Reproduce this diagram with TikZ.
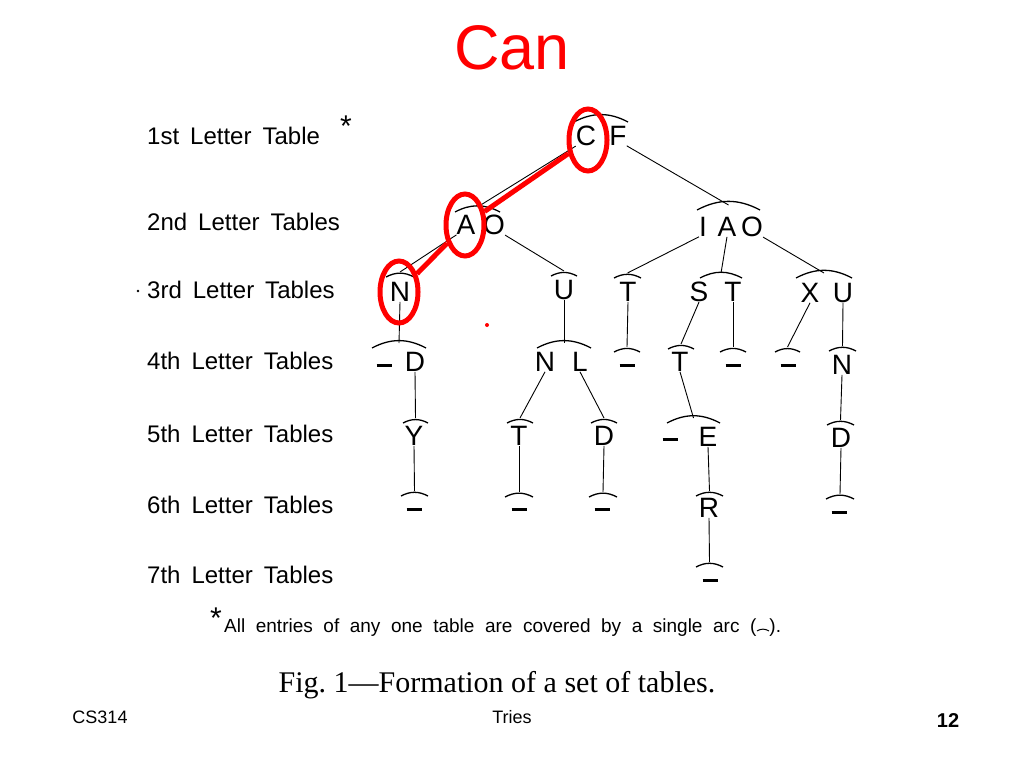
\documentclass[tikz,border=0pt]{standalone}
\usepackage{fontspec}
\usetikzlibrary{shapes.geometric}
\setmainfont{Liberation Serif}
\newfontfamily\lsans{Liberation Sans}
\begin{document}
\begin{tikzpicture}[x=1pt,y=-1pt,
  lt/.style={font=\lsans\fontsize{28}{28}\selectfont,inner sep=0pt},
  lab/.style={font=\lsans\fontsize{24}{24}\selectfont,anchor=west,inner sep=0pt},
  tbl/.style={line width=1.3pt},
  edge/.style={line width=0.9pt},
  hl/.style={red,line width=5pt},
  hlc/.style={draw=red,line width=5pt,ellipse,minimum width=38pt,minimum height=62pt,inner sep=0pt}]
\useasboundingbox (0,0) rectangle (1024,768);
\node[red,font=\lsans\fontsize{63}{63}\selectfont] (title) at (512,48) {Can};
% row labels
\newcommand\ws{\hspace{11pt}}
\node[lab] (l1) at (147,136) {1st\ws Letter\ws Table};
\node[font=\lsans\fontsize{30}{30}\selectfont,inner sep=0pt] (ast) at (346,126) {*};
\node[lab] (l2) at (147,222) {2nd\ws Letter\ws Tables};
\node[lab] (l3) at (147,290) {3rd\ws Letter\ws Tables};
\fill (138,291) circle (1.3);
\node[lab] (l4) at (147,361) {4th\ws Letter\ws Tables};
\node[lab] (l5) at (147,434) {5th\ws Letter\ws Tables};
\node[lab] (l6) at (147,505) {6th\ws Letter\ws Tables};
\node[lab] (l7) at (147,575) {7th\ws Letter\ws Tables};
% letters
\def\U{\rule[-9pt]{15pt}{2.4pt}}
\node[lt] (C) at (586,136) {C}; \node[lt] (F) at (618,136) {F};
\node[lt] (A) at (466,225) {A}; \node[lt] (O) at (494,225) {O};
\node[lt] (I2) at (703,227) {I}; \node[lt] (A2) at (727,227) {A}; \node[lt] (O2) at (752,227) {O};
\node[lt] (N) at (400,292) {N};
\node[lt] (U) at (564,290) {U};
\node[lt] (T3) at (628,292) {T};
\node[lt] (S3) at (699,292) {S}; \node[lt] (T3b) at (733,292) {T};
\node[lt] (X3) at (810,293) {X}; \node[lt] (U3) at (843,293) {U};
\node[lt] (e41) at (384,362) {\U}; \node[lt] (D4) at (415,362) {D};
\node[lt] (N4) at (545,362) {N}; \node[lt] (L4) at (580,362) {L};
\node[lt] (e42) at (627,362) {\U};
\node[lt] (T4) at (680,362) {T};
\node[lt] (e43) at (733,362) {\U};
\node[lt] (e44) at (788,362) {\U};
\node[lt] (N4b) at (842,365) {N};
\node[lt] (Y5) at (414,436) {Y};
\node[lt] (T5) at (519,436) {T};
\node[lt] (D5) at (604,436) {D};
\node[lt] (e51) at (670,436) {\U}; \node[lt] (E5) at (708,437) {E};
\node[lt] (D5b) at (841,438) {D};
\node[lt] (e61) at (414,506) {\U};
\node[lt] (e62) at (519,506) {\U};
\node[lt] (e63) at (602,506) {\U};
\node[lt] (R6) at (709,508) {R};
\node[lt] (e64) at (839,509) {\U};
\node[lt] (e71) at (710,577) {\U};
% table arcs: coordinate at top centre
\newcommand\tarc[4]{\coordinate (#1) at ({(#2+#3)/2},{#4-5}); \draw[tbl] (#2,#4) to[bend left=28] (#3,#4);}
\tarc{aCF}{574}{628}{122}
\tarc{aAO}{455}{500}{212}
\tarc{aIAO}{697}{760}{210}
\tarc{aN}{386}{414}{277}
\tarc{aU}{551}{577}{276}
\tarc{aT3}{614}{641}{278}
\tarc{aST}{700}{742}{278}
\tarc{aXU}{796}{852}{278}
\tarc{aD4}{372}{426}{348}
\tarc{aNL}{537}{591}{348}
\tarc{ae42}{614}{640}{352}
\tarc{aT4}{668}{694}{349}
\tarc{ae43}{720}{746}{352}
\tarc{ae44}{775}{800}{352}
\tarc{aN4b}{829}{856}{351}
\tarc{aY5}{403}{428}{423}
\tarc{aT5}{507}{533}{423}
\tarc{aD5}{591}{617}{423}
\tarc{aE5}{667}{720}{423}
\tarc{aD5b}{827}{854}{425}
\tarc{ae61}{401}{428}{496}
\tarc{ae62}{505}{533}{497}
\tarc{ae63}{589}{617}{497}
\tarc{aR6}{696}{723}{496}
\tarc{ae64}{826}{854}{499}
\tarc{ae71}{696}{723}{567}
% edges
\draw[edge] (C.south west) -- (aAO);
\draw[edge] (F.south east) -- (aIAO);
\draw[edge] (A.south west) -- (aN);
\draw[edge] (O.south east) -- (aU);
\draw[edge] (I2.south west) -- (aT3);
\draw[edge] (A2.south) -- (aST);
\draw[edge] (O2.south east) -- (aXU);
\draw[edge] (N.south) -- (aD4);
\draw[edge] (U.south) -- (aNL);
\draw[edge] (T3.south) -- (ae42);
\draw[edge] (S3.south) -- (aT4);
\draw[edge] (T3b.south) -- (ae43);
\draw[edge] (X3.south) -- (ae44);
\draw[edge] (U3.south) -- (aN4b);
\draw[edge] (D4.south) -- (aY5);
\draw[edge] (N4.south) -- (aT5);
\draw[edge] (L4.south) -- (aD5);
\draw[edge] (T4.south) -- (aE5);
\draw[edge] (N4b.south) -- (aD5b);
\draw[edge] (Y5.south) -- (ae61);
\draw[edge] (T5.south) -- (ae62);
\draw[edge] (D5.south) -- (ae63);
\draw[edge] (E5.south) -- (aR6);
\draw[edge] (D5b.south) -- (ae64);
\draw[edge] (R6.south) -- (ae71);
% highlights
\node[hlc] (hC) at (588,140) {};
\node[hlc] (hA) at (465,225) {};
\node[hlc] (hN) at (399,292) {};
\draw[hl] (hC) -- (hA);
\draw[hl] (hA) -- (hN);
\fill[red] (487,325) circle (2);
% footnote
\node[font=\lsans\fontsize{30}{30}\selectfont,inner sep=0pt] (fast) at (216,618) {*};
\node[font=\lsans\fontsize{19}{19}\selectfont,anchor=west,inner sep=0pt] (foot) at (224,628) {All\ \ entries\ \ of\ \ any\ \ one\ \ table\ \ are\ \ covered\ \ by\ \ a\ \ single\ \ arc\ \ (\raisebox{2pt}{\tikz[baseline]\draw[line width=1pt] (0,0) to[bend left=30] (12pt,0);}).};
\node[font=\fontsize{30}{30}\selectfont] (cap) at (497,685) {Fig.\ 1---Formation of a set of tables.};
% footer
\node[font=\lsans\fontsize{18}{18}\selectfont] (cs) at (100,717) {CS314};
\node[font=\lsans\fontsize{18}{18}\selectfont] (tries) at (512,717) {Tries};
\node[font=\lsans\bfseries\fontsize{20}{20}\selectfont] (pg) at (948,721) {12};
\end{tikzpicture}
\end{document}
